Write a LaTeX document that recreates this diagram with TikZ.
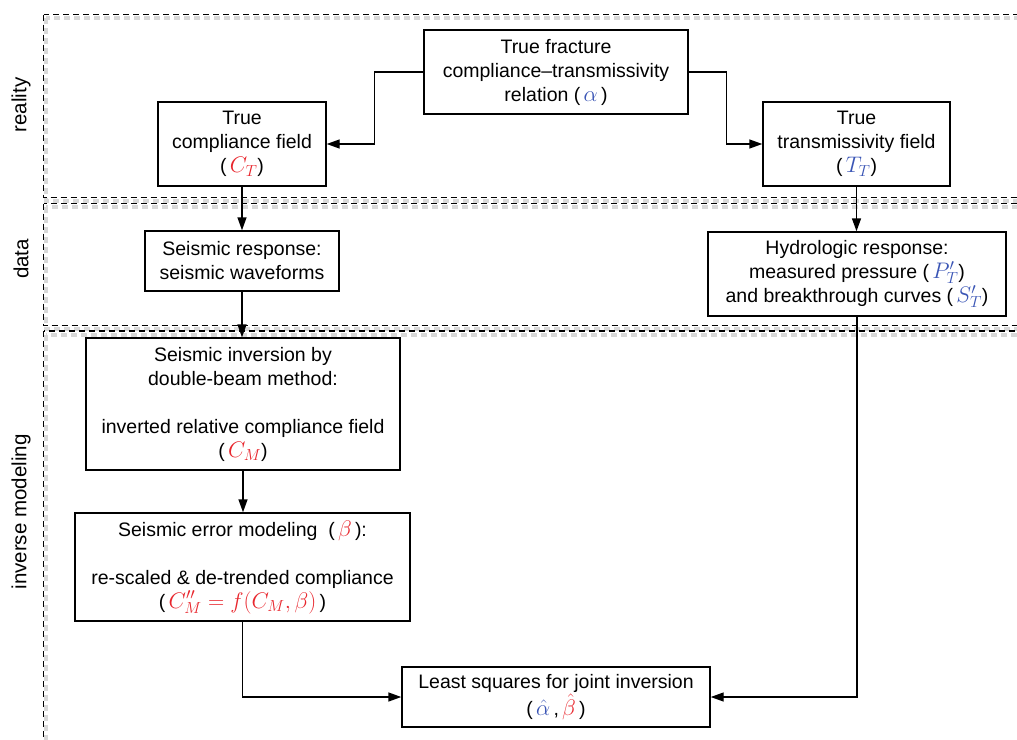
\RequirePackage{fix-cm}
\documentclass[tikz,border=0pt]{standalone}
\usepackage{fontspec}
\setmainfont{Liberation Sans}
\usetikzlibrary{arrows.meta}
\DeclareMathSizes{19.5}{22.5}{16}{12}
\definecolor{cred}{RGB}{232,38,45}
\definecolor{cblue}{RGB}{58,85,181}
\newcommand{\rd}[1]{\textcolor{cred}{#1}}
\newcommand{\bl}[1]{\textcolor{cblue}{#1}}
\tikzset{
  box/.style={draw, line width=1.4pt, align=center, inner sep=0pt},
  arr/.style={line width=1.4pt, -{Triangle[length=13pt,width=9pt]}},
  region/.style={draw, line width=1.3pt, dash pattern=on 6pt off 4pt},
  regshadow/.style={draw=black!30, opacity=0.5, line width=4pt, dash pattern=on 6pt off 4pt},
  lab/.style={rotate=90, anchor=center, font=\fontsize{20.5}{24}\selectfont}
}
\begin{document}
\begin{tikzpicture}[x=1pt, y=-1pt, font=\fontsize{19.5}{24}\selectfont]
\useasboundingbox (0,0) rectangle (1017,739);
\clip (0,0) rectangle (1017,739);
% region shadows
\draw[regshadow] (46,18) rectangle (1030,201);
\draw[regshadow] (46,207) rectangle (1030,329);
\draw[regshadow] (46,334.5) rectangle (1030,746);
% regions
\draw[region] (43.5,14.5) rectangle (1028,197.5);
\draw[region] (43.5,203.5) rectangle (1028,325.5);
\draw[region] (43.5,331) rectangle (1028,742);
% region labels
\node[lab] (lreal) at (21,105) {reality};
\node[lab] (ldata) at (21,259) {data};
\node[lab] (linv) at (21,512) {inverse modeling};
% boxes
\node[box, minimum width=264, minimum height=84] (alpha) at (556,72)
  {True fracture\\compliance--transmissivity\\relation (\,\bl{$\alpha$}\,)};
\node[box, minimum width=168, minimum height=84] (CT) at (242,144)
  {True\\compliance field\\(\,\rd{$C_T$})};
\node[box, minimum width=187, minimum height=84] (TT) at (856.5,144)
  {True\\transmissivity field\\(\,\bl{$T_T$})};
\node[box, minimum width=194, minimum height=60] (SR) at (242,261)
  {Seismic response:\\seismic waveforms};
\node[box, minimum width=298, minimum height=84] (HR) at (857,274)
  {Hydrologic response:\\measured pressure (\,\bl{$P'_T$})\\and breakthrough curves (\,\bl{$S'_T$})};
\node[box, minimum width=314, minimum height=132] (SI) at (243,404)
  {Seismic inversion by\\double-beam method:\\[24pt]inverted relative compliance field\\(\,\rd{$C_M$})};
\node[box, minimum width=335, minimum height=108] (SE) at (242.5,567)
  {Seismic error modeling\ \ (\,\rd{$\beta$}\,):\\[24pt]re-scaled \& de-trended compliance\\(\,\rd{$C''_M=f(C_M,\beta)$}\,)};
\node[box, minimum width=308, minimum height=60] (LS) at (556,697)
  {Least squares for joint inversion\\(\,\bl{$\hat{\alpha}$}\,,\,\rd{$\hat{\beta}$}\,)};
% connectors
\draw[arr] (alpha.west) -- ([xshift=-49]alpha.west) |- (CT.east);
\draw[arr] (alpha.east) -- ([xshift=38]alpha.east) |- (TT.west);
\draw[arr] (CT.south) -- (CT.south |- SR.north);
\draw[arr] (TT.south) -- (TT.south |- HR.north);
\draw[arr] (SR.south) -- (SR.south |- SI.north);
\draw[arr] (SI.south) -- (SI.south |- SE.north);
\draw[arr] (SE.south) |- (LS.west);
\draw[arr] (HR.south) |- (LS.east);
\end{tikzpicture}
\end{document}
